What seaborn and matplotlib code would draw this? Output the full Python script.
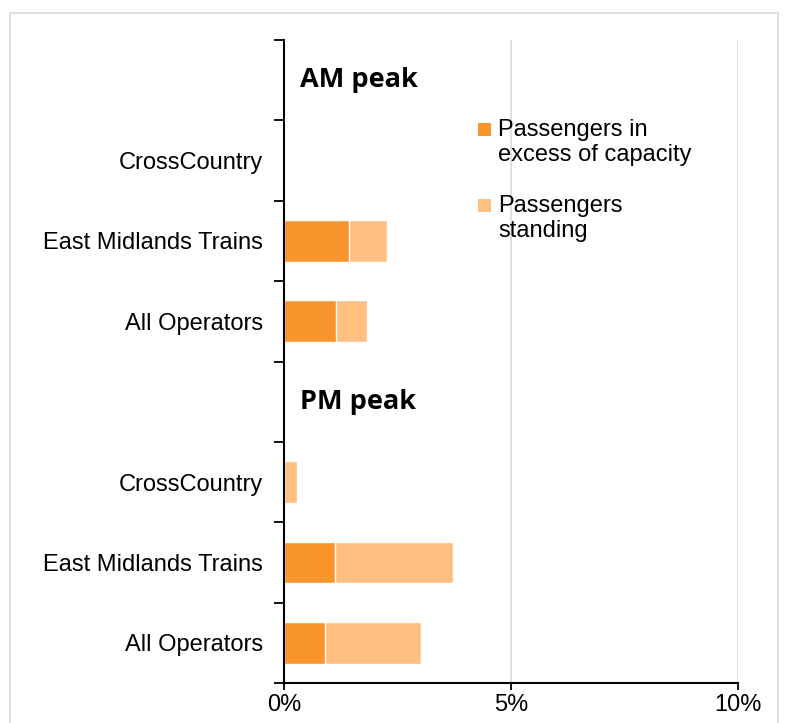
import pandas as pd
import matplotlib
matplotlib.use("Agg")
import matplotlib.pyplot as plt
import matplotlib.patches as mpatches
from matplotlib.legend_handler import HandlerPatch
from matplotlib.ticker import FixedLocator
import seaborn as sns

# Row order top to bottom (header rows have no bars)
rows = ["AM", "AM CrossCountry", "AM East Midlands Trains", "AM All Operators",
        "PM", "PM CrossCountry", "PM East Midlands Trains", "PM All Operators"]
row_labels = ["", "CrossCountry", "East Midlands Trains", "All Operators",
              "", "CrossCountry", "East Midlands Trains", "All Operators"]
excess = [0, 0.0, 1.43, 1.15, 0, 0.0, 1.12, 0.90]
standing = [0, 0.0, 0.84, 0.68, 0, 0.29, 2.60, 2.12]
headers = {"AM": "AM peak", "PM": "PM peak"}

dark = "#F9952D"
light = "#FFBF80"

df = pd.DataFrame({"row": rows, "excess": excess, "standing": standing})
df["total"] = df["excess"] + df["standing"]

sns.set_theme(style="white")
plt.rcParams["font.family"] = ["Liberation Sans", "DejaVu Sans"]
plt.rcParams["text.color"] = "black"
plt.rcParams["xtick.color"] = "black"
plt.rcParams["ytick.color"] = "black"

fig = plt.figure(figsize=(7.85, 7.23), dpi=100)
ax = fig.add_axes([284 / 785, 1 - 683 / 723, 454 / 785, 643 / 723])

sns.barplot(data=df, y="row", x="total", order=rows, color=light, width=0.52,
            saturation=1, orient="h", ax=ax)
sns.barplot(data=df, y="row", x="excess", order=rows, color=dark, width=0.52,
            saturation=1, orient="h", ax=ax)

ax.set_xlim(0, 10)
ax.set_ylim(len(rows) - 0.5, -0.5)
ax.set_xticks([0, 5, 10])
ax.set_xticklabels(["0%", "5%", "10%"], fontsize=17)
ax.set_yticks(range(len(rows)))
ax.set_yticklabels(row_labels, fontsize=17)
ax.yaxis.set_minor_locator(FixedLocator([i - 0.5 for i in range(len(rows) + 1)]))
ax.tick_params(axis="y", which="major", length=0, pad=15)
ax.tick_params(axis="y", which="minor", length=7, width=1.3, color="black", left=True)
ax.tick_params(axis="x", length=5, width=1.3, color="black", bottom=True, pad=3)
ax.set_xlabel("")
ax.set_ylabel("")

for s in ["top", "right"]:
    ax.spines[s].set_visible(False)
for s in ["left", "bottom"]:
    ax.spines[s].set_color("black")
    ax.spines[s].set_linewidth(1.5)

ax.xaxis.grid(True, color="#d9d9d9", linewidth=1.2)
ax.set_axisbelow(True)

for key, txt in headers.items():
    ax.text(0.35, rows.index(key), txt, fontsize=19.5, fontweight="bold",
            family=["Open Sans", "DejaVu Sans"], va="center", ha="left")


class TopSquare(HandlerPatch):
    # square next to the first line of a two-line label
    def create_artists(self, legend, orig_handle, xdescent, ydescent,
                       width, height, fontsize, trans):
        size = 9
        p = mpatches.Rectangle((0, 11), size, size,
                               facecolor=orig_handle.get_facecolor(),
                               edgecolor="none", transform=trans)
        return [p]


handles = [mpatches.Patch(color=dark), mpatches.Patch(color=light)]
leg = ax.legend(handles, ["Passengers in\nexcess of capacity", "Passengers\nstanding"],
                loc="upper left", bbox_to_anchor=(0.381, 0.91), frameon=False,
                fontsize=17, handlelength=0.55, handletextpad=0.3, labelspacing=1.25,
                handler_map={mpatches.Patch: TopSquare()})
for t in leg.get_texts():
    t.set_linespacing(1.15)

fig.patches.append(mpatches.Rectangle((10 / 785, -0.05), 768 / 785, 1.05 - 13 / 723,
                                      transform=fig.transFigure, fill=False,
                                      edgecolor="#d9d9d9", linewidth=1.2))

fig.savefig("out.png", dpi=100)
